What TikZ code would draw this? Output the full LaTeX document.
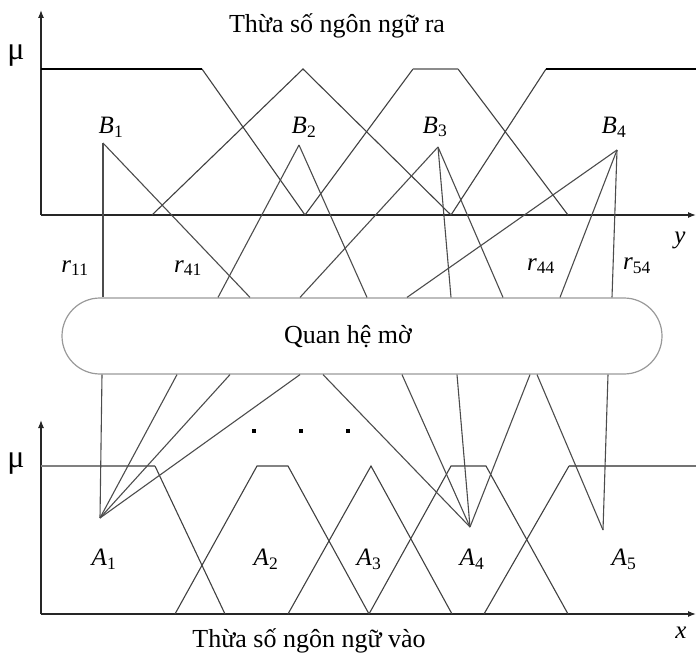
\documentclass[tikz,border=0pt]{standalone}
\usepackage{fontspec}
\setmainfont{Liberation Serif}
\usetikzlibrary{arrows.meta}
\newcommand\mfname[2]{\textit{#1}\textsubscript{#2}}
\begin{document}
\begin{tikzpicture}[x=1pt,y=-1pt,
  every node/.style={font=\fontsize{25}{29}\selectfont},
  mf/.style={black!75,line width=1.1pt},
  flat/.style={line width=2.2pt},
  link/.style={black!70,line width=1.1pt},
  axis/.style={black!85,line width=1.2pt,-{Latex[length=8pt,width=6pt]}},
  relbox/.style={draw=black!40,line width=1.2pt,rounded corners=38pt,minimum width=600pt,minimum height=76pt}]
  \useasboundingbox (0,0) rectangle (696,655);
  % output side
  \draw[axis] (41,215) -- (41,10);
  \draw[axis] (41,215) -- (696,215);
  \node[font=\fontsize{32}{34}\selectfont] (mu1) at (16,56) {μ};
  \node (yl) at (680,240) {\textit{y}};
  \node[font=\fontsize{26}{30}\selectfont] (outtitle) at (337,26) {Thừa số ngôn ngữ ra};
  \draw[mf] (202,69) -- (305,215);
  \draw[flat,black] (41,69) -- (202,69);
  \draw[mf] (152,215) -- (303,69) -- (451,215);
  \draw[mf] (305,215) -- (413,69) (458,69) -- (568,215);
  \draw[flat,black!45] (413,69) -- (458,69);
  \draw[mf] (451,215) -- (546,69);
  \draw[flat,black] (546,69) -- (696,69);
  % input side
  \draw[axis] (41,614) -- (41,420);
  \draw[axis] (41,614) -- (696,614);
  \node[font=\fontsize{32}{34}\selectfont] (mu2) at (16,464) {μ};
  \node (xl) at (681,633) {\textit{x}};
  \node[font=\fontsize{26}{30}\selectfont] (intitle) at (309,641) {Thừa số ngôn ngữ vào};
  \draw[flat,black!50] (41,466) -- (155,466);
  \draw[mf] (155,466) -- (225,614);
  \draw[mf] (175,614) -- (257,466) -- (288,466) -- (369,614);
  \draw[mf] (288,614) -- (371,466) -- (452,614);
  \draw[mf] (369,614) -- (451,466) -- (486,466) -- (568,614);
  \draw[mf] (484,614) -- (569,466);
  \draw[black!55,line width=1.4pt] (569,466) -- (696,466);
  % relation
  \node[relbox] (rel) at (362,336) {};
  \node[font=\fontsize{26}{30}\selectfont] (reltxt) at (348,337) {Quan hệ mờ};
  \coordinate (b1) at (103,143);
  \coordinate (b2) at (299,145);
  \coordinate (b3) at (438,147);
  \coordinate (b4) at (617,150);
  \coordinate (a1) at (100,518);
  \coordinate (a4) at (470,527);
  \coordinate (a5) at (603,530);
  \foreach \p/\x in {b1/103,b1/250,b2/218,b2/367,b3/300,b3/451,b3/503,b4/407,b4/560,b4/612}
    \draw[link] (\p) -- (\x,0 |- rel.north);
  \foreach \p/\x in {a1/102,a1/177,a1/230,a1/300,a4/323,a4/402,a4/457,a4/530,a5/537,a5/608}
    \draw[link] (\p) -- (\x,0 |- rel.south);
  \foreach \x in {254,301,348} {\fill (\x-1.8,429.2) rectangle ++(3.6,3.6);}
  \node (lb1) at (111,127) {\mfname{B}{1}};
  \node (lb2) at (304,127) {\mfname{B}{2}};
  \node (lb3) at (435,127) {\mfname{B}{3}};
  \node (lb4) at (614,127) {\mfname{B}{4}};
  \node (la1) at (104,559) {\mfname{A}{1}};
  \node (la2) at (266,559) {\mfname{A}{2}};
  \node (la3) at (369,559) {\mfname{A}{3}};
  \node (la4) at (472,559) {\mfname{A}{4}};
  \node (la5) at (624,559) {\mfname{A}{5}};
  \node (r11) at (75,268) {\mfname{r}{11}};
  \node (r41) at (188,268) {\mfname{r}{41}};
  \node (r44) at (541,266) {\mfname{r}{44}};
  \node (r54) at (637,266) {\mfname{r}{54}};
\end{tikzpicture}
\end{document}
